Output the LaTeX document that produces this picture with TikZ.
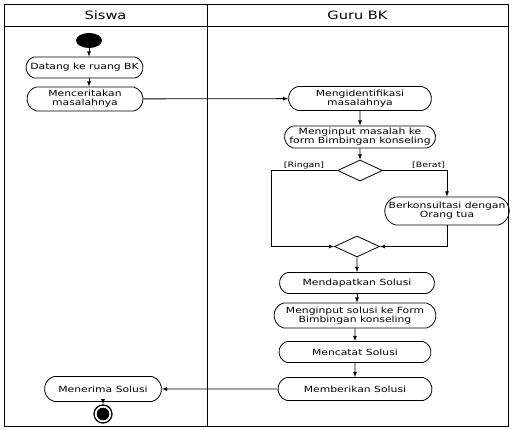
\documentclass[tikz,border=0pt]{standalone}
\usepackage{fontspec}
\setmainfont{DejaVu Sans}[FakeStretch=1.27]
\usepackage{tikz}
\usetikzlibrary{arrows}
\usetikzlibrary{shapes.geometric}
\usetikzlibrary{shapes.misc}
\newcommand{\actfont}{\fontsize{8.5}{8.9}\selectfont}
\newcommand{\lanefont}{\fontsize{11.5}{12}\selectfont}
\newcommand{\guardfont}{\fontsize{7.4}{8}\selectfont}
\tikzset{
  activity/.style={rounded rectangle, rounded rectangle arc length=150, draw, line width=0.8pt,
                   align=center, inner sep=1pt, font=\actfont},
  branch/.style={diamond, draw, line width=0.8pt, minimum width=45pt, minimum height=21pt, inner sep=0pt},
  flow/.style={-latex, line width=0.8pt},
  guard/.style={font=\guardfont, inner sep=1.5pt},
}

\begin{document}
\begin{tikzpicture}[x=1pt, y=-1pt]
            \useasboundingbox (0,0) rectangle (516,430);
            % Swimlanes
            \draw[line width=0.8pt] (4,4) rectangle (508,426);
            \draw[line width=0.8pt] (4,26) -- (508,26);
            \draw[line width=0.8pt] (207,4) -- (207,426);
            \node[font=\lanefont] (siswa) at (105.5,15) {Siswa};
            \node[font=\lanefont] (guru)  at (357.5,15) {Guru BK};
            % Siswa
            \node[ellipse, fill=black, minimum width=26pt, minimum height=15pt, inner sep=0pt] (start) at (89,40.5) {};
            \node[activity, minimum width=119pt, minimum height=21pt] (datang) at (84.5,67.5) {Datang ke ruang BK};
            \node[activity, minimum width=118pt, minimum height=24pt] (cerita) at (85,99) {Menceritakan\\masalahnya};
            \node[activity, minimum width=119pt, minimum height=25pt] (terima) at (103,389) {Menerima Solusi};
            \node[circle, draw, line width=1.3pt, minimum size=18pt, inner sep=0pt,
                  path picture={\fill (path picture bounding box.center) circle (6.3pt);}] (finish) at (103,414) {};
            % Guru BK
            \node[activity, minimum width=145pt, minimum height=24pt] (identif) at (360,98.5) {Mengidentifikasi\\masalahnya};
            \node[activity, minimum width=153pt, minimum height=22pt] (inputmasalah) at (360,137) {Menginput masalah ke\\form Bimbingan konseling};
            \node[branch] (cek) at (360,170.5) {};
            \node[activity, minimum width=122pt, minimum height=28pt] (konsul) at (447,211) {Berkonsultasi dengan\\Orang tua};
            \node[branch] (gabung) at (357,246.5) {};
            \node[activity, minimum width=157pt, minimum height=21pt] (dapat) at (357,283) {Mendapatkan Solusi};
            \node[activity, minimum width=164pt, minimum height=25pt] (inputsolusi) at (355,315.5) {Menginput solusi ke Form\\Bimbingan konseling};
            \node[activity, minimum width=154pt, minimum height=21pt] (catat) at (355,352) {Mencatat Solusi};
            \node[activity, minimum width=156pt, minimum height=23pt] (beri) at (355,389) {Memberikan Solusi};
            \coordinate (kiri) at (271,0);
            % Flows
            \draw[flow] (start.south) -- (datang.north -| start);
            \draw[flow] (datang.south -| start) -- (cerita.north -| start);
            \draw[flow] (cerita) -- (identif);
            \draw[flow] (identif) -- (inputmasalah);
            \draw[flow] (inputmasalah) -- (cek);
            \draw[line width=0.8pt] (cek.west) -- node[guard, above] {[Ringan]} (cek.west -| kiri);
            \draw[flow] (cek.west -| kiri) |- (gabung.west);
            \draw[flow] (cek.east) -| node[guard, pos=0.5, above left] {[Berat]} (konsul.north);
            \draw[flow] (konsul.south) |- (gabung.east);
            \draw[flow] (gabung) -- (dapat);
            \draw[flow] (dapat.south) -- (inputsolusi.north -| dapat);
            \draw[flow] (inputsolusi) -- (catat);
            \draw[flow] (catat) -- (beri);
            \draw[flow] (beri) -- (terima);
            \draw[flow] (terima) -- (finish);
        \end{tikzpicture}
\end{document}
